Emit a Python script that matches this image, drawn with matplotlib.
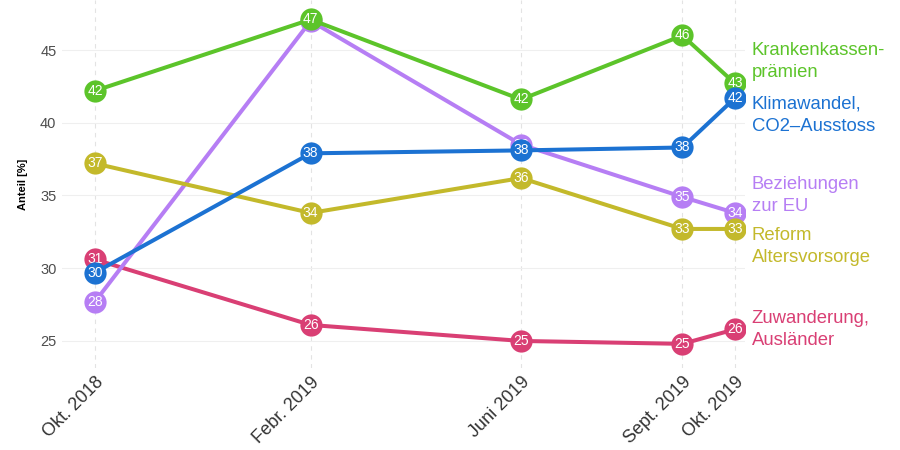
import matplotlib
matplotlib.use("Agg")
import matplotlib.pyplot as plt
import matplotlib.dates as mdates
import numpy as np
import datetime as dt

plt.rcParams['font.family'] = ['Liberation Sans', 'DejaVu Sans']

dates = [dt.date(2018, 10, 1), dt.date(2019, 2, 1), dt.date(2019, 6, 1),
         dt.date(2019, 9, 1), dt.date(2019, 10, 1)]
tick_labels = ["Okt. 2018", "Febr. 2019", "Juni 2019", "Sept. 2019", "Okt. 2019"]

zuwanderung = [30.6, 26.1, 25.0, 24.8, 25.8]
beziehungen_eu = [27.7, 47.0, 38.5, 34.9, 33.8]
krankenkassen = [42.2, 47.1, 41.6, 46.0, 42.7]
reform_av = [37.2, 33.8, 36.2, 32.7, 32.7]
klimawandel = [29.7, 37.9, 38.1, 38.3, 41.7]

series_names = ["Zuwanderung,\nAusländer", "Beziehungen\nzur EU",
                "Krankenkassen-\nprämien", "Reform\nAltersvorsorge",
                "Klimawandel,\nCO2–Ausstoss"]
series_values = [zuwanderung, beziehungen_eu, krankenkassen, reform_av, klimawandel]
series_colors = ["#d93f74", "#b67ef4", "#5cc42a", "#c3b92b", "#1c72d2"]
label_pos = [25.8, 35.0, 44.2, 31.5, 40.5]

fig = plt.figure(figsize=(9, 4.5), dpi=100)
ax = fig.add_axes([62/900, 1 - 368/450, (745 - 62)/900, 368/450])

x = mdates.date2num(dates)
for i, (name, vals, col, lp) in enumerate(zip(series_names, series_values, series_colors, label_pos)):
    z = 3 + i
    ax.plot(x, vals, color=col, lw=2.9, zorder=z, solid_capstyle='round')
    ax.plot(x, vals, 'o', color=col, ms=16, mec=col, mew=0, zorder=z)
    for xi, v in zip(x, vals):
        ax.text(xi, v, f"{int(round(v))}", color='white', fontsize=10,
                ha='center', va='center', zorder=z)
    ax.text(x[-1] + 9.5, lp, name, color=col, fontsize=13.3, ha='left', va='center',
            linespacing=1.4, clip_on=False)

ax.set_xlim(x[0] - 18.8, x[-1] + 5.7)
ax.set_ylim(23.14, 48.44)
ax.set_xticks(x)
ax.set_xticklabels(tick_labels, rotation=45, ha='right', va='top',
                   rotation_mode='anchor', fontsize=13, color='#333333')
ax.set_yticks([25, 30, 35, 40, 45])
ax.tick_params(axis='y', labelsize=10.5, labelcolor='#4d4d4d', length=0, pad=4)
ax.tick_params(axis='x', length=0, pad=4)
ax.set_ylabel("Anteil [%]", fontsize=8, fontweight='bold', labelpad=9)

ax.grid(axis='y', color='#efefef', lw=0.8, zorder=0)
ax.grid(axis='x', color='#e3e3e3', lw=0.8, ls=(0, (4, 4)), zorder=0)
for s in ax.spines.values():
    s.set_visible(False)

fig.savefig("out.png", dpi=100)
